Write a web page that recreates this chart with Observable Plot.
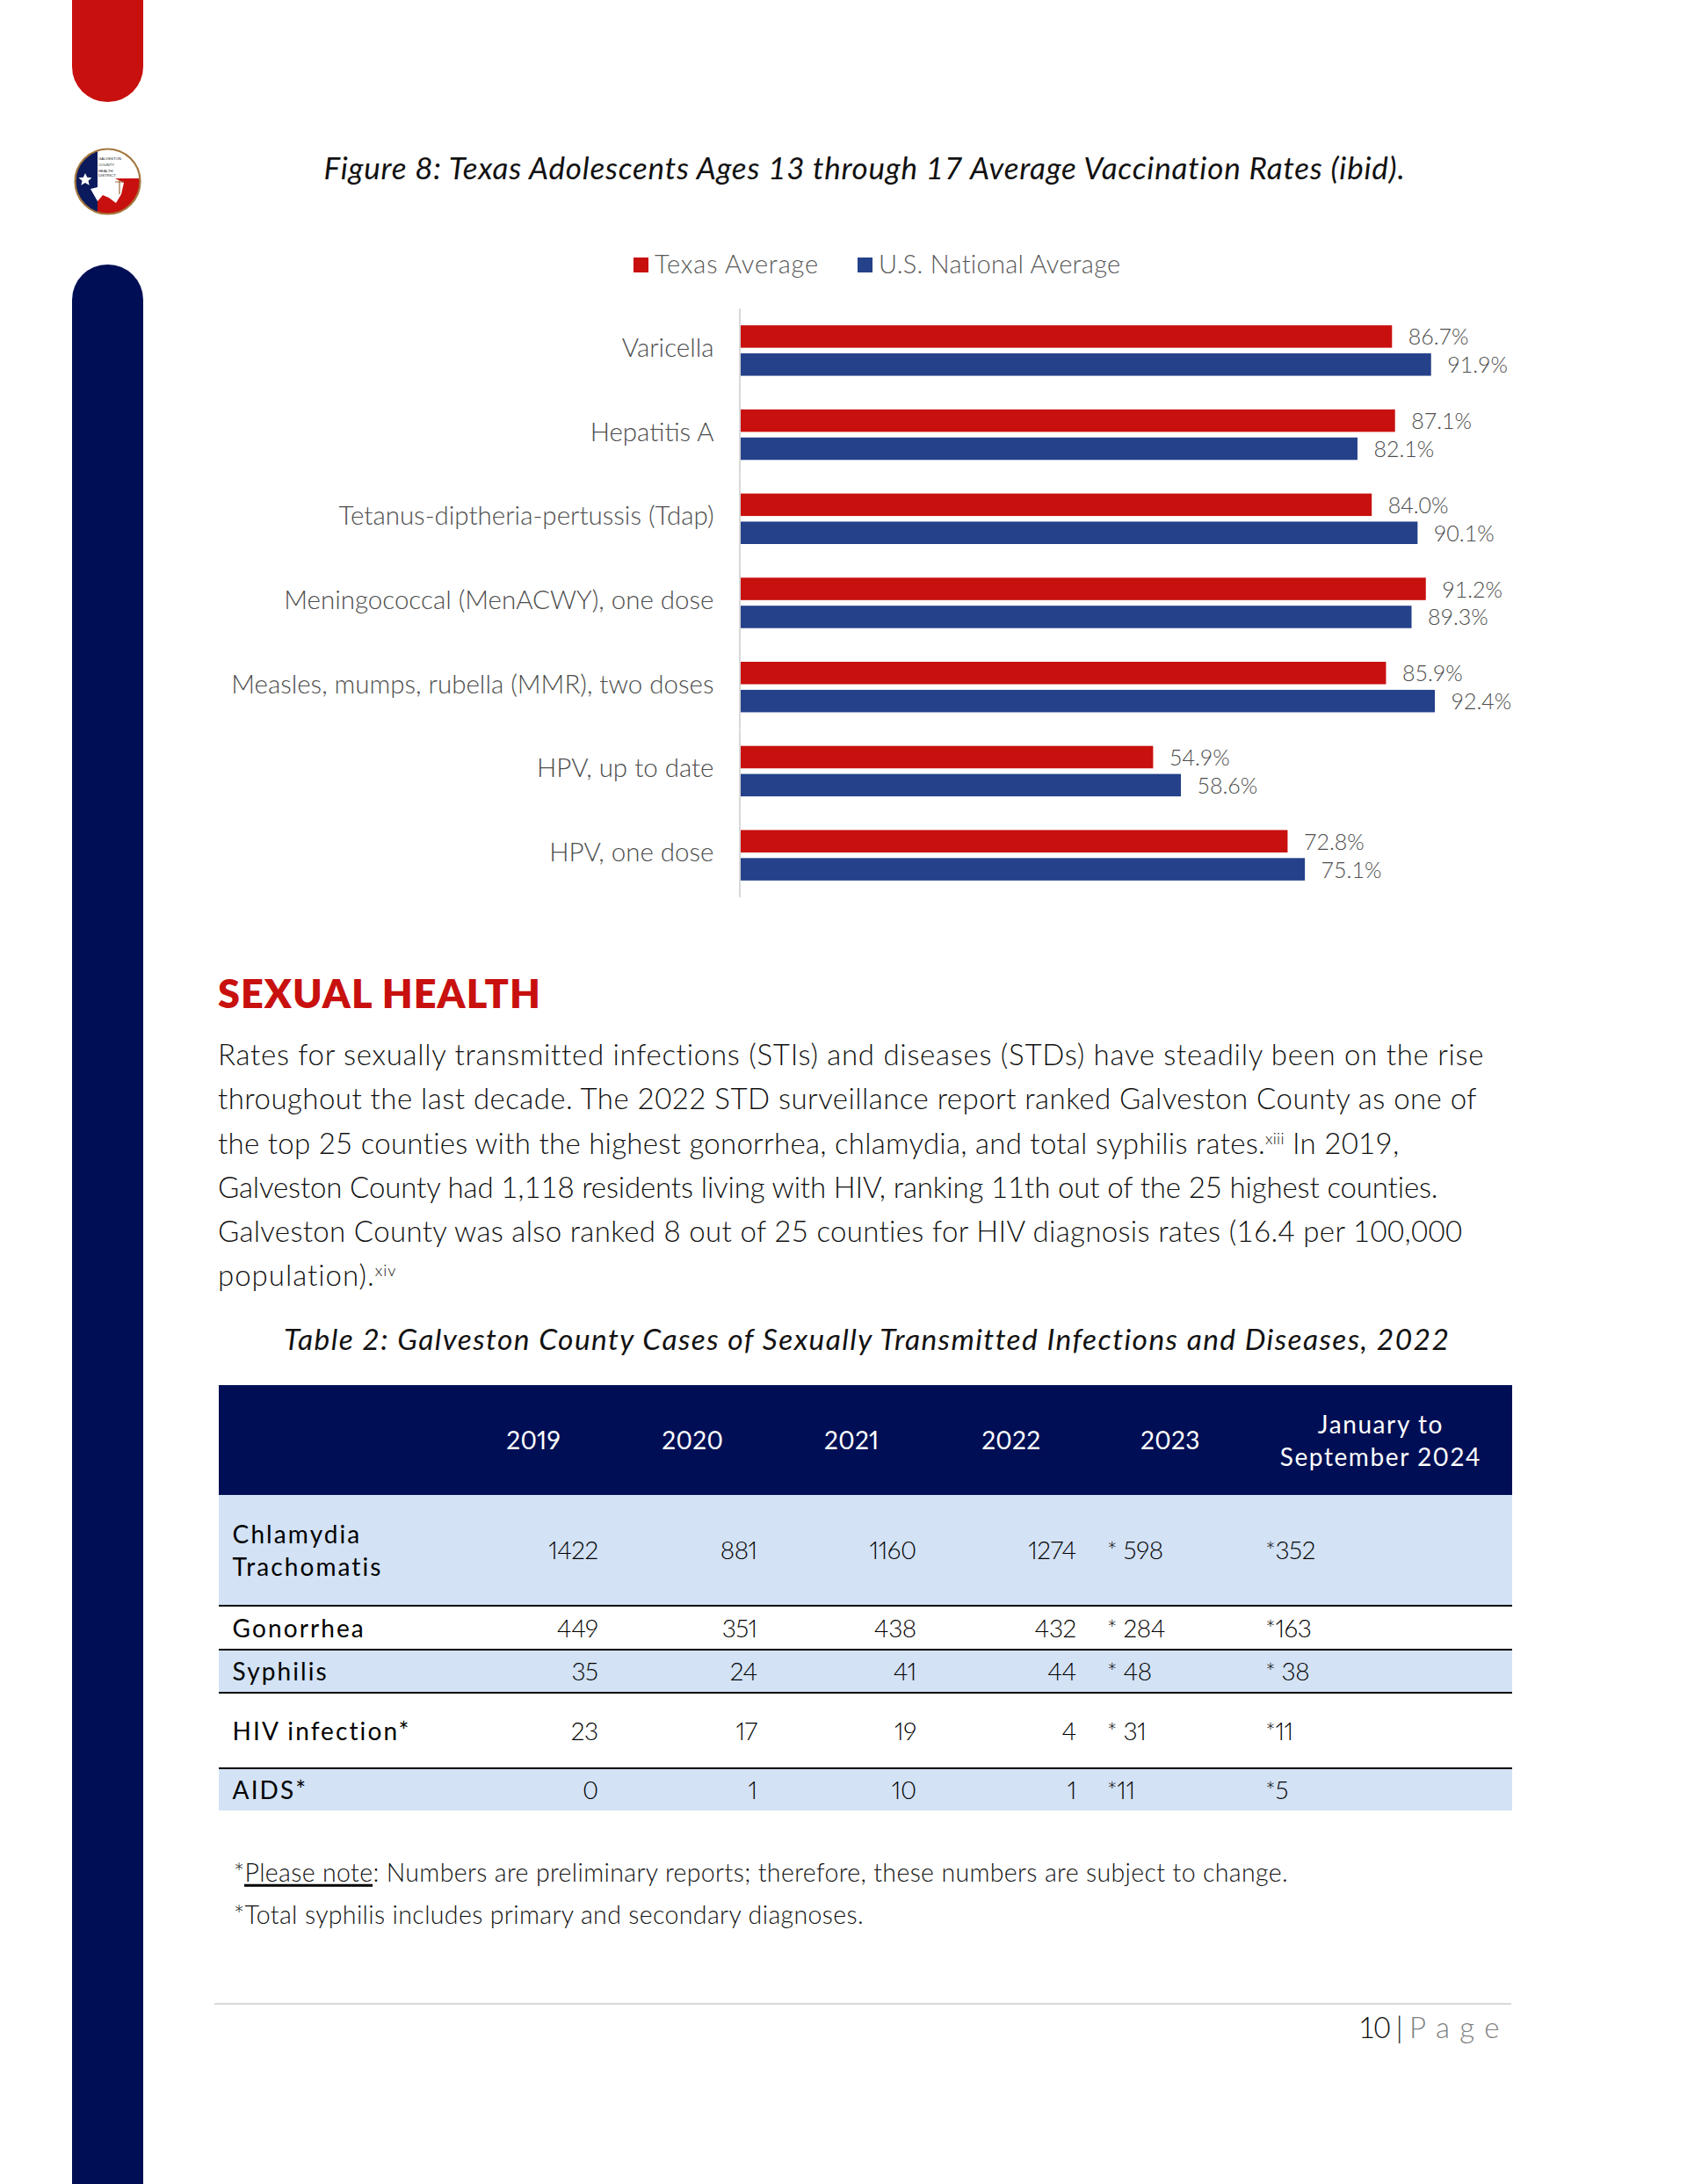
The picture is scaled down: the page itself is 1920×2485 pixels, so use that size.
<!DOCTYPE html>
<html><head><meta charset="utf-8">
<script src="https://cdn.jsdelivr.net/npm/d3@7"></script>
<script src="https://cdn.jsdelivr.net/npm/@observablehq/plot@0.6"></script>
<style>
html,body{margin:0;padding:0;background:#fff}
body{position:relative;width:1920px;height:2485px;overflow:hidden;font-family:Lato,sans-serif;font-weight:300;color:#111}
.t{position:absolute;white-space:nowrap;line-height:1;transform:translateY(-50%)}
.box{position:absolute}
sup{font-size:.55em;line-height:0;vertical-align:.6em}
#chart{position:absolute;left:0;top:351px}
#chart svg{overflow:visible;display:block}
table{position:absolute;left:248.6px;top:1576px;width:1472.4px;border-collapse:collapse;table-layout:fixed;font-size:28px;color:#000;font-feature-settings:"pnum"}
td,th{padding:0;font-weight:300;line-height:37px}
thead tr{background:#000f55;color:#fff;height:125px}
thead th{text-align:center;font-weight:400;letter-spacing:.3px}
thead th.last{letter-spacing:1.6px}
tbody td{text-align:right;padding-right:17px;letter-spacing:-.4px}
tbody td:first-child{text-align:left;padding:0 0 0 16px;font-weight:400;letter-spacing:2.1px}
tbody td.l{text-align:left;padding:0 0 0 18px}
tr.s{background:#d3e2f5}
tr.b td{border-bottom:2px solid #000}
</style></head><body>
<script>
// ---- chart data
const categories=["Varicella","Hepatitis A","Tetanus-diptheria-pertussis (Tdap)","Meningococcal (MenACWY), one dose","Measles, mumps, rubella (MMR), two doses","HPV, up to date","HPV, one dose"];
const seriesNames=["Texas Average","U.S. National Average"];
const texasValues=[86.7,87.1,84.0,91.2,85.9,54.9,72.8];
const nationalValues=[91.9,82.1,90.1,89.3,92.4,58.6,75.1];
const seriesColors=["#c8100f","#24418a"];
// ---- table data
const tableYears=["2019","2020","2021","2022","2023"];
const tableLastHeader=["January to","September 2024"];
const tableRows=["Chlamydia<br>Trachomatis","Gonorrhea","Syphilis","HIV infection*","AIDS*"];
const cases2019=[1422,449,35,23,0];
const cases2020=[881,351,24,17,1];
const cases2021=[1160,438,41,19,10];
const cases2022=[1274,432,44,4,1];
const cases2023=["* 598","* 284","* 48","* 31","*11"];
const cases2024=["*352","*163","* 38","*11","*5"];
const rowHeights=[126,50,49,86,48];
// ---- text
const bodyLines=[
 ["Rates for sexually transmitted infections (STIs) and diseases (STDs) have steadily been on the rise",1689],
 ["throughout the last decade. The 2022 STD surveillance report ranked Galveston County as one of",1681],
 ["the top 25 counties with the highest gonorrhea, chlamydia, and total syphilis rates.<sup>xiii</sup> In 2019,",1593],
 ["Galveston County had 1,118 residents living with HIV, ranking 11th out of the 25 highest counties.",1637],
 ["Galveston County was also ranked 8 out of 25 counties for HIV diagnosis rates (16.4 per 100,000",1665],
 ["population).<sup>xiv</sup>",452]];

const add=(html,x,y,o={})=>{const e=document.createElement("div");e.className="t";e.innerHTML=html;
 e.style.left=x+"px";e.style.top=y+"px";Object.assign(e.style,o.style||{});document.body.appendChild(e);
 if(o.right){const w=o.right-x;const r=e.getBoundingClientRect().width;const n=e.textContent.length;e.style.letterSpacing=((w-r)/n)+"px";}
 return e;};
const box=(x,y,w,h,bg,extra={})=>{const e=document.createElement("div");e.className="box";
 Object.assign(e.style,{left:x+"px",top:y+"px",width:w+"px",height:h+"px",background:bg},extra);document.body.appendChild(e);return e;};

// side bars
box(82,0,81,116,"#c8100f",{borderRadius:"0 0 40px 40px"});
box(82,301,81,2184,"#000f55",{borderRadius:"40px 40px 0 0"});
// logo
document.body.insertAdjacentHTML("beforeend",`<svg style="position:absolute;left:82px;top:165px" width="81" height="84" viewBox="0 0 81 84">
<defs><clipPath id="c"><circle cx="40.5" cy="41.5" r="37"/></clipPath></defs>
<g clip-path="url(#c)"><rect width="81" height="84" fill="#c8100f"/><rect width="29" height="84" fill="#0a1a5c"/>
<rect x="29" width="52" height="38" fill="#fff"/>
<path d="M21 50L29 48L29 38L49 38L59 43L56 56L50 66L42 60L35 57L29 64Z" fill="#fff"/>
<path d="M15 32l2.2 4.8 5.3.5-4 3.4 1.2 5.1-4.7-2.7-4.7 2.7 1.2-5.1-4-3.4 5.3-.5z" fill="#fff"/>
<path d="M54 40v16M49 42h10" stroke="#9a6b3c" stroke-width="1.2" fill="none"/>
<g font-family="Liberation Sans" font-size="4.3" font-weight="400" fill="#222"><text x="30" y="17">GALVESTON</text><text x="30" y="24">COUNTY</text><text x="30" y="31">HEALTH</text><text x="30" y="36">DISTRICT</text></g></g>
<circle cx="40.5" cy="41.5" r="37" fill="none" stroke="#a4773f" stroke-width="2.2"/></svg>`);

// figure title & legend
add("Figure 8: Texas Adolescents Ages 13 through 17 Average Vaccination Rates (ibid).",368.6,190,{right:1599,style:{fontSize:"35px",fontStyle:"italic",fontWeight:400,color:"#111"}});
const lg={fontSize:"29px",color:"#595959"};
box(721,293,17,17,seriesColors[0]);add(seriesNames[0],745,299,{right:932,style:lg});
box(976,293,17,17,seriesColors[1]);add(seriesNames[1],1000,299,{right:1276,style:lg});

// chart
const rows=categories.flatMap((c,i)=>[
 {category:c,series:seriesNames[0],value:texasValues[i]},
 {category:c,series:seriesNames[1],value:nationalValues[i]}]);
const chart=Plot.plot({
 width:1920,height:670,marginLeft:843,marginRight:222,marginTop:0,marginBottom:0,
 style:{fontFamily:"Lato,sans-serif",background:"transparent",fontWeight:300},
 x:{domain:[0,100],axis:null},
 y:{domain:seriesNames,axis:null,paddingInner:.2,paddingOuter:.6,round:false},
 fy:{domain:categories,padding:0,axis:null,round:false},
 color:{domain:seriesNames,range:seriesColors},
 marks:[
  Plot.barX(rows,{x:"value",y:"series",fy:"category",fill:"series"}),
  Plot.ruleX([0],{stroke:"#d9d9d9",strokeWidth:2,dx:-1.5}),
  Plot.text(rows,{x:"value",y:"series",fy:"category",text:d=>d.value.toFixed(1)+"%",textAnchor:"start",dx:18,dy:1,fontSize:25,fill:"#4d4d4d",fontWeight:300}),
  Plot.axisFy({anchor:"left",tickSize:0,tickPadding:31,fontSize:29.5,color:"#4d4d4d",label:null,lineWidth:100,fontWeight:300,dy:-3})
 ]});
const holder=document.createElement("div");holder.id="chart";holder.appendChild(chart);document.body.appendChild(holder);

// section
add("SEXUAL HEALTH",248,1130,{right:616,style:{fontSize:"45px",fontWeight:800,color:"#c8100f"}});
const ys=[1199,1249.3,1299.5,1349.6,1399.8,1450];
bodyLines.forEach(([s,r],i)=>add(s,248,ys[i],{right:r,style:{fontSize:"33px",color:"#111"}}));
add("Table 2: Galveston County Cases of Sexually Transmitted Infections and Diseases, 2022",323,1524,{right:1648,style:{fontSize:"33.5px",fontStyle:"italic",fontWeight:400,color:"#111"}});

// table
const colW=[268,181,181,181,182,180,299];
const tb=document.createElement("table");
tb.innerHTML=`<colgroup>${colW.map(w=>`<col style="width:${w}px">`).join("")}</colgroup>
<thead><tr><th></th>${tableYears.map(y=>`<th>${y}</th>`).join("")}<th class="last">${tableLastHeader.join("<br>")}</th></tr></thead>
<tbody>${tableRows.map((r,i)=>`<tr class="${i%2==0?"s":""} ${i<4?"b":""}" style="height:${rowHeights[i]}px"><td>${r}</td><td>${cases2019[i]}</td><td>${cases2020[i]}</td><td>${cases2021[i]}</td><td>${cases2022[i]}</td><td class="l">${cases2023[i]}</td><td class="l">${cases2024[i]}</td></tr>`).join("")}</tbody>`;
document.body.appendChild(tb);

// notes
const nt={fontSize:"28.5px",color:"#111"};
add('*<span style="position:relative">Please note<span style="position:absolute;left:0;right:0;top:31px;height:3px;background:#000"></span></span>: Numbers are preliminary reports; therefore, these numbers are subject to change.',266,2130,{right:1466,style:nt});
add("*Total syphilis includes primary and secondary diagnoses.",266,2178,{right:983,style:nt});

// footer
box(244,2279,1476,2,"#d9d9d9");
add("10 |",1546,2306,{right:1595,style:{fontSize:"33px",color:"#111"}});
add("Page",1604,2306,{right:1718,style:{fontSize:"33px",color:"#7f7f7f"}});
</script>
</body></html>
